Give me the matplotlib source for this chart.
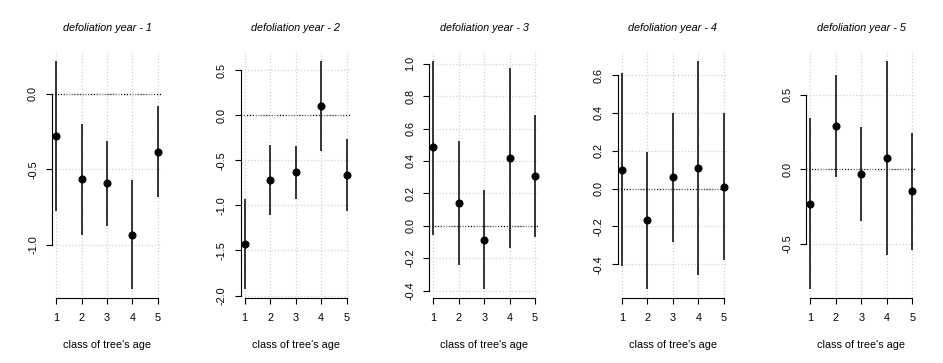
import matplotlib
matplotlib.use("Agg")
import matplotlib.pyplot as plt
import numpy as np

plt.rcParams['font.family'] = ['Liberation Sans', 'DejaVu Sans']
plt.rcParams['axes.unicode_minus'] = False

classes = [1, 2, 3, 4, 5]
titles = ["defoliation year - 1", "defoliation year - 2", "defoliation year - 3",
          "defoliation year - 4", "defoliation year - 5"]

# point estimate, lower and upper bound for each age class
est_y1 = [-0.278, -0.566, -0.590, -0.930, -0.382]
low_y1 = [-0.772, -0.934, -0.873, -1.289, -0.684]
high_y1 = [0.215, -0.202, -0.311, -0.570, -0.083]

est_y2 = [-1.429, -0.718, -0.630, 0.099, -0.663]
low_y2 = [-1.926, -1.105, -0.932, -0.394, -1.057]
high_y2 = [-0.928, -0.331, -0.339, 0.600, -0.262]

est_y3 = [0.483, 0.140, -0.086, 0.419, 0.308]
low_y3 = [-0.060, -0.242, -0.390, -0.136, -0.072]
high_y3 = [1.016, 0.522, 0.218, 0.975, 0.684]

est_y4 = [0.098, -0.167, 0.060, 0.111, 0.011]
low_y4 = [-0.411, -0.530, -0.284, -0.454, -0.379]
high_y4 = [0.611, 0.196, 0.400, 0.674, 0.398]

est_y5 = [-0.229, 0.291, -0.031, 0.078, -0.144]
low_y5 = [-0.800, -0.049, -0.344, -0.571, -0.538]
high_y5 = [0.342, 0.631, 0.280, 0.724, 0.240]

yticks = [
    [-1.0, -0.5, 0.0],
    [-2.0, -1.5, -1.0, -0.5, 0.0, 0.5],
    [-0.4, -0.2, 0.0, 0.2, 0.4, 0.6, 0.8, 1.0],
    [-0.4, -0.2, 0.0, 0.2, 0.4, 0.6],
    [-0.5, 0.0, 0.5],
]

panels = [(est_y1, low_y1, high_y1), (est_y2, low_y2, high_y2), (est_y3, low_y3, high_y3),
          (est_y4, low_y4, high_y4), (est_y5, low_y5, high_y5)]

W, H = 943, 363
fig = plt.figure(figsize=(W / 100, H / 100), dpi=100)
fs = 7.8

for i, (est, low, high) in enumerate(panels):
    left = 52 + i * 188.6
    ax = fig.add_axes([left / W, (H - 298) / H, 110 / W, (298 - 52) / H])

    ax.grid(True, color='#d3d3d3', linestyle=':', linewidth=0.9, zorder=0)
    ax.axhline(0, color='black', linestyle=(0, (1, 1.2)), linewidth=0.9, zorder=1)
    ax.vlines(classes, low, high, color='black', linewidth=1.1, zorder=2)
    ax.plot(classes, est, 'o', color='black', markersize=4.8, zorder=3)

    lo, hi = min(low), max(high)
    pad = 0.04 * (hi - lo)
    ax.set_ylim(lo - pad, hi + pad)
    ax.set_xlim(1 - 0.16, 5 + 0.16)

    ax.set_xticks(classes)
    ax.set_yticks(yticks[i])
    ax.set_yticklabels([f"{v:.1f}" for v in yticks[i]], rotation=90, va='center')

    for s in ['top', 'right']:
        ax.spines[s].set_visible(False)
    ax.spines['bottom'].set_bounds(1, 5)
    ax.spines['left'].set_bounds(yticks[i][0], yticks[i][-1])
    for s in ['bottom', 'left']:
        ax.spines[s].set_linewidth(0.8)

    ax.tick_params(axis='both', length=4, width=0.8, labelsize=fs, color='black')
    ax.tick_params(axis='y', pad=6)
    ax.tick_params(axis='x', pad=7)

    ax.set_title(titles[i], fontsize=fs, style='italic', pad=15)
    ax.set_xlabel("class of tree's age", fontsize=fs, labelpad=12)

fig.savefig("out.png", dpi=100)
